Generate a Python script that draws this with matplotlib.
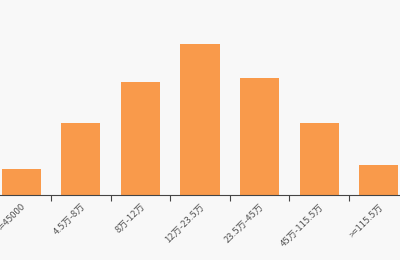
import numpy as np
import matplotlib.pyplot as plt

plt.rcParams['font.family'] = ['Noto Sans CJK SC', 'DejaVu Sans']

categories = ["<=45000", "4.5万-8万", "8万-12万", "12万-23.5万",
              "23.5万-45万", "45万-115.5万", ">=115.5万"]
values = [26, 72, 113, 151, 117, 72, 30]

bg = '#f8f8f8'
fig = plt.figure(figsize=(4, 2.6), dpi=100, facecolor=bg)
# the chart is cropped: the axes run a little past both image edges
ax = fig.add_axes([-8.6 / 400, 65 / 260, 417.2 / 400, 195 / 260])
ax.set_facecolor(bg)

x = np.arange(len(categories))
ax.bar(x, values, width=0.66, color='#f99a4b')
ax.set_xlim(-0.5, len(categories) - 0.5)
ax.set_ylim(0, 195)

ax.set_xticks(x[:-1] + 0.5)
ax.set_xticklabels([])
ax.set_xticks(x, minor=True)
ax.set_xticklabels(categories, minor=True, rotation=45, ha='right', va='top',
                   rotation_mode='anchor', fontsize=6.8, color='#555555')
ax.tick_params(axis='x', which='major', length=4, width=0.8, color='#444444')
ax.tick_params(axis='x', which='minor', length=0, pad=5)
ax.set_yticks([])
for side in ['top', 'right', 'left']:
    ax.spines[side].set_visible(False)
ax.spines['bottom'].set_color('#444444')
ax.spines['bottom'].set_linewidth(0.8)

fig.savefig('out.png', dpi=100, facecolor=bg)
